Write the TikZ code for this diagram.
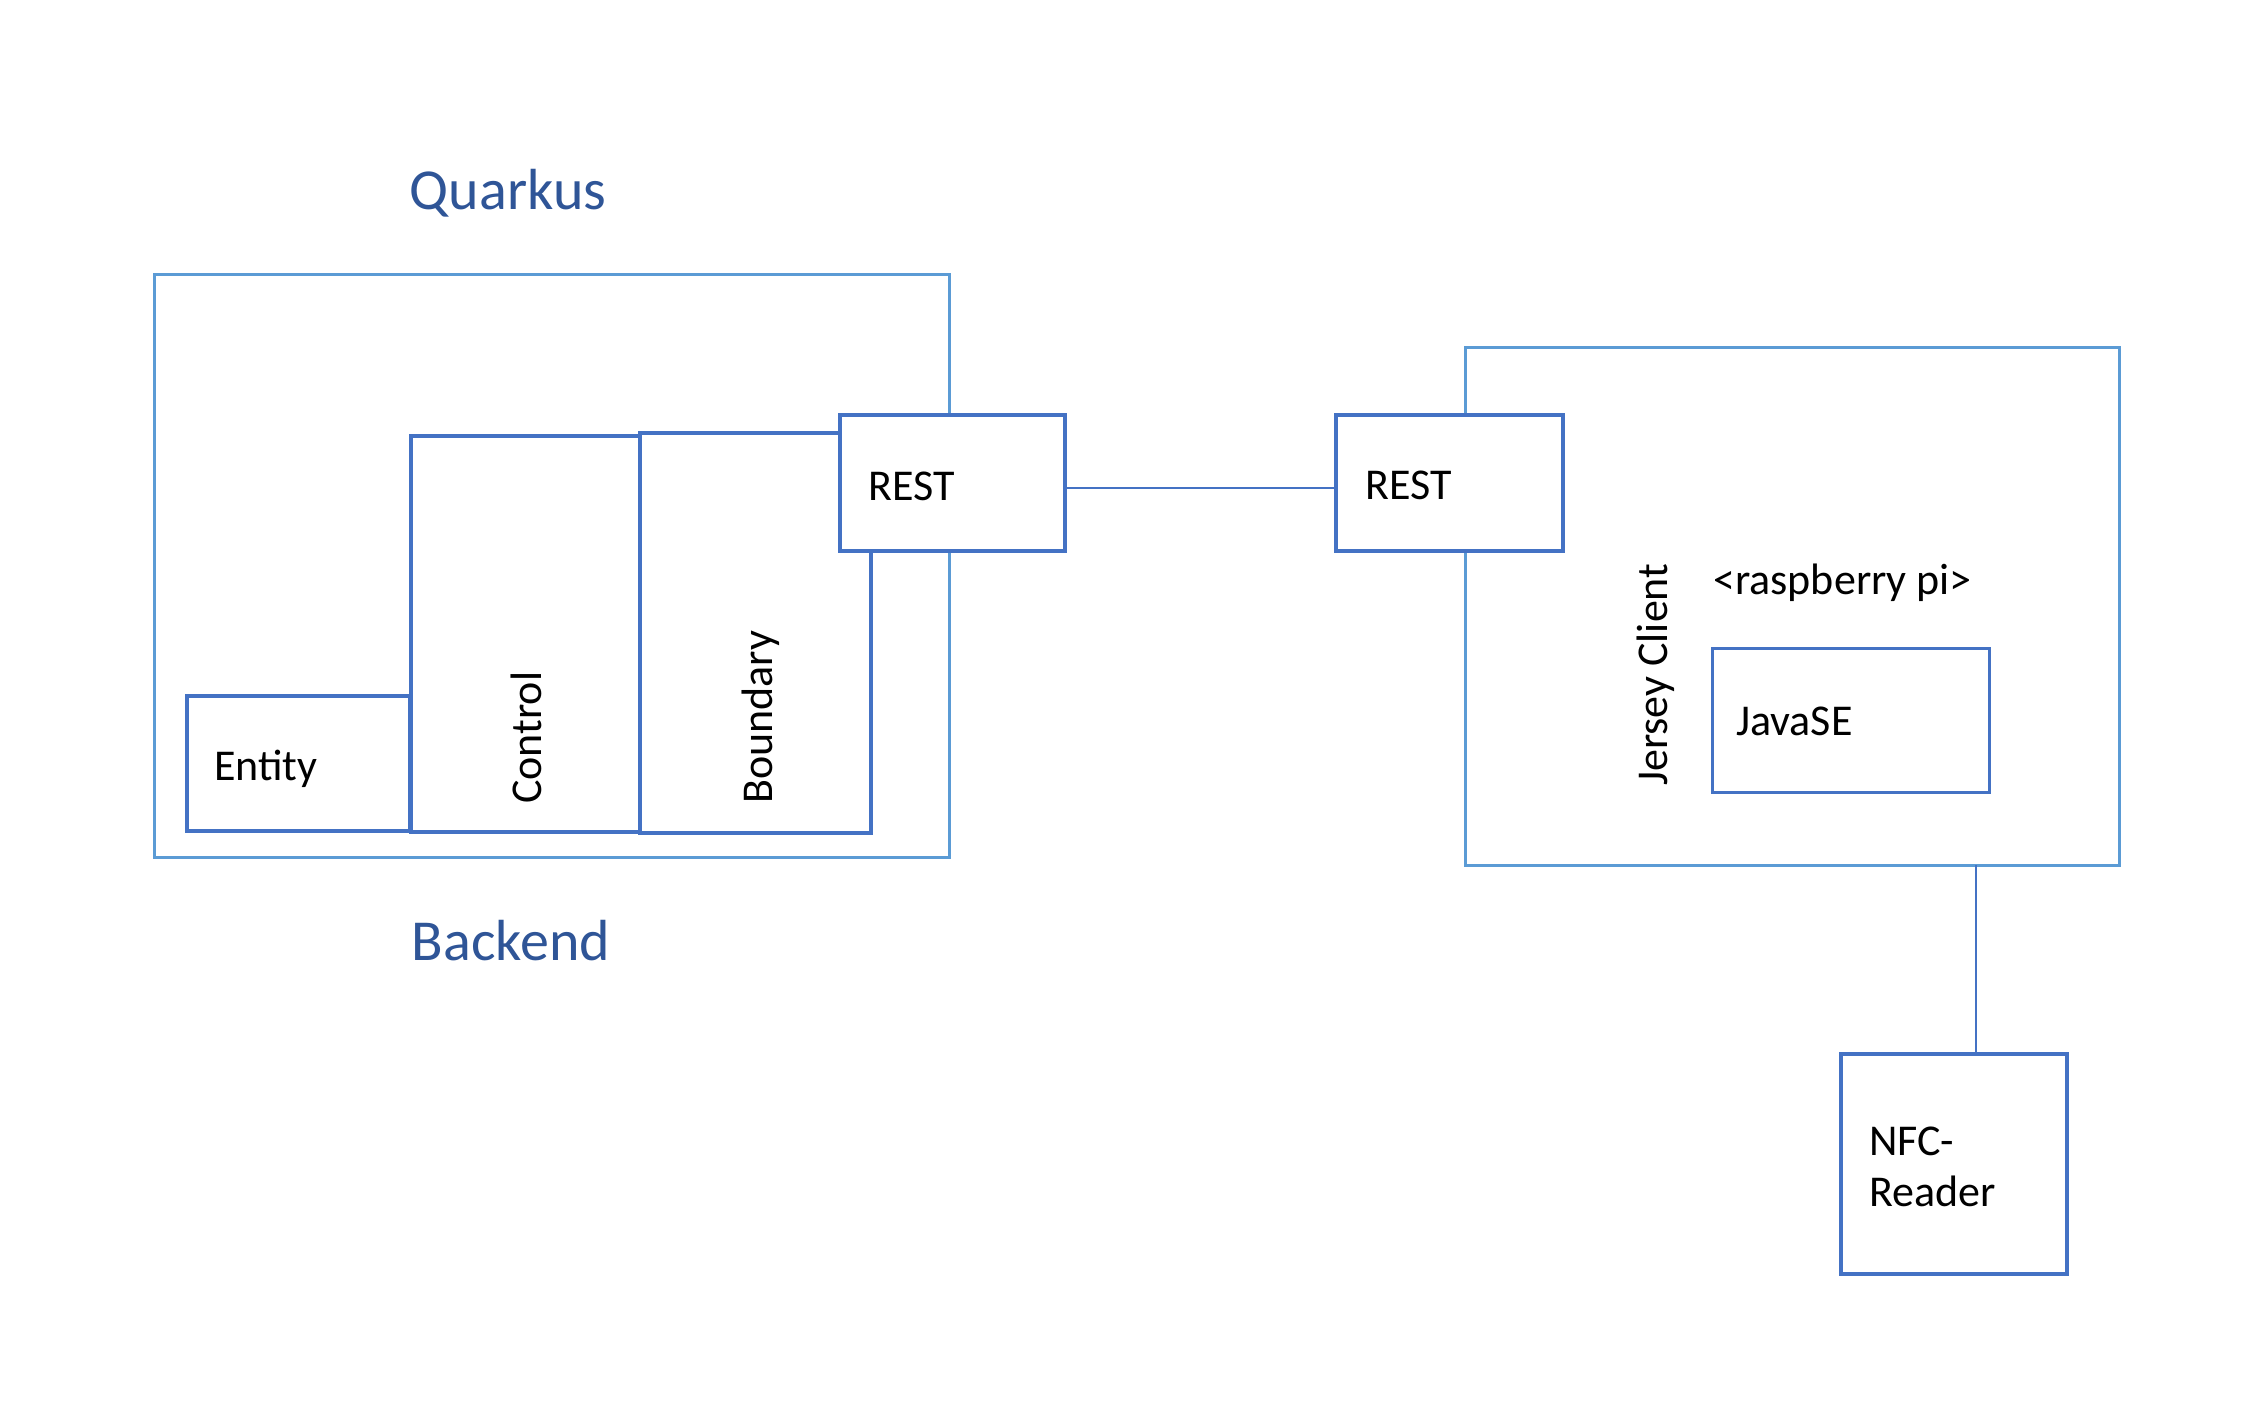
\documentclass[tikz,border=0pt]{standalone}
\usepackage{fontspec}
\setmainfont{Carlito}
\definecolor{outerblue}{HTML}{5B9BD5}
\definecolor{innerblue}{HTML}{4472C4}
\definecolor{titleblue}{HTML}{2F5597}
\begin{document}
\begin{tikzpicture}[x=1pt,y=-1pt,
  outerbox/.style={draw=outerblue,line width=3pt,fill=white},
  innerbox/.style={draw=innerblue,line width=3.5pt,fill=white},
  lbl/.style={font=\fontsize{44}{52}\selectfont,inner sep=0pt,anchor=base west,text=black},
  vlbl/.style={lbl,rotate=90},
  title/.style={font=\fontsize{58}{70}\selectfont,inner sep=0pt,text=titleblue},
  conn/.style={draw=innerblue,line width=1.5pt}]
\useasboundingbox (0,0) rectangle (2254,1414);
% backend
\node[outerbox,minimum width=795pt,minimum height=583pt,inner sep=0pt] (backendbox) at (551.5,565.5) {};
\node[innerbox,minimum width=223pt,minimum height=135pt,inner sep=0pt] (entity) at (298.5,763.5) {};
\node[innerbox,minimum width=229pt,minimum height=396pt,inner sep=0pt] (control) at (525.5,634) {};
\node[innerbox,minimum width=231pt,minimum height=400pt,inner sep=0pt] (boundary) at (755.5,633) {};
\node[innerbox,minimum width=225pt,minimum height=136pt,inner sep=0pt] (restL) at (952.5,483) {};
% client
\node[outerbox,minimum width=654pt,minimum height=518pt,inner sep=0pt] (clientbox) at (1792,606) {};
\coordinate (clientS) at (1976,865);
\node[innerbox,minimum width=227pt,minimum height=136pt,inner sep=0pt] (restR) at (1449.5,483) {};
\node[draw=innerblue,line width=3pt,minimum width=277pt,minimum height=144pt,inner sep=0pt] (javase) at (1850.5,720) {};
\node[innerbox,minimum width=226pt,minimum height=220pt,inner sep=0pt] (nfc) at (1954,1164) {};
% connectors
\draw[conn] ([yshift=-5pt]restL.east) -- ([yshift=-5pt]restR.west);
\draw[conn] (clientS) -- (clientS |- nfc.north);
% texts
\node[title] (quarkus) at (508,193) {Quarkus};
\node[title] (backend) at (511,941) {Backend};
\node[lbl] (entityT) at (214,780) {Entity};
\node[vlbl] (controlT) at (541,804) {Control};
\node[vlbl] (boundaryT) at (772,804) {Boundary};
\node[lbl] (restLT) at (868,500) {REST};
\node[lbl] (restRT) at (1365,499) {REST};
\node[vlbl] (jerseyT) at (1667,786) {Jersey Client};
\node[lbl] (rpiT) at (1713,594) {<raspberry pi>};
\node[lbl] (javaT) at (1736,735) {JavaSE};
\node[lbl] (nfcT) at (1869,1155) {NFC-};
\node[lbl] (readerT) at (1869,1206) {Reader};
\end{tikzpicture}
\end{document}
